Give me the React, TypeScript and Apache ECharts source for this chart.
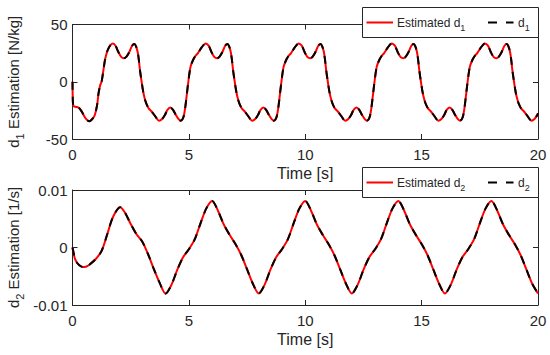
import React, { useEffect, useRef } from 'react';
import * as echarts from 'echarts';

// ---- Data ----
// d1 estimation [N/kg] vs time [s]
const d1Time = [
  0, 0.02, 0.06, 0.15, 0.25, 0.35, 0.45, 0.58, 0.72, 0.85, 0.96, 1.06, 1.12, 1.19, 1.25, 1.32, 1.39, 1.46, 1.53, 1.63, 1.74, 1.86, 1.97,
  2.10, 2.21, 2.32, 2.44, 2.56, 2.66, 2.73, 2.80, 2.85, 2.90, 2.97, 3.04, 3.12, 3.19, 3.28, 3.40, 3.55, 3.72, 3.85, 3.97,
  4.08, 4.20, 4.32, 4.44, 4.55, 4.64, 4.72, 4.78, 4.84, 4.90, 4.97, 5.07, 5.18, 5.28, 5.39, 5.55, 5.72, 5.85, 5.97,
  6.10, 6.21, 6.32, 6.44, 6.56, 6.66, 6.73, 6.80, 6.85, 6.90, 6.97, 7.04, 7.12, 7.19, 7.28, 7.40, 7.55, 7.72, 7.85, 7.97,
  8.08, 8.20, 8.32, 8.44, 8.55, 8.64, 8.72, 8.78, 8.84, 8.90, 8.97, 9.07, 9.18, 9.28, 9.39, 9.55, 9.72, 9.85, 9.97,
  10.10, 10.21, 10.32, 10.44, 10.56, 10.66, 10.73, 10.80, 10.85, 10.90, 10.97, 11.04, 11.12, 11.19, 11.28, 11.40, 11.55, 11.72, 11.85, 11.97,
  12.08, 12.20, 12.32, 12.44, 12.55, 12.64, 12.72, 12.78, 12.84, 12.90, 12.97, 13.07, 13.18, 13.28, 13.39, 13.55, 13.72, 13.85, 13.97,
  14.10, 14.21, 14.32, 14.44, 14.56, 14.66, 14.73, 14.80, 14.85, 14.90, 14.97, 15.04, 15.12, 15.19, 15.28, 15.40, 15.55, 15.72, 15.85, 15.97,
  16.08, 16.20, 16.32, 16.44, 16.55, 16.64, 16.72, 16.78, 16.84, 16.90, 16.97, 17.07, 17.18, 17.28, 17.39, 17.55, 17.72, 17.85, 17.97,
  18.10, 18.21, 18.32, 18.44, 18.56, 18.66, 18.73, 18.80, 18.85, 18.90, 18.97, 19.04, 19.12, 19.19, 19.28, 19.40, 19.55, 19.72, 19.85, 19.97,
  20.0,
];
const d1Estimated = [
  0, -19, -21.5, -22, -22.5, -24.5, -28, -32.5, -34.5, -32.5, -29, -20, -10, -3, 0, 9, 18.5, 24.5, 28.5, 32, 33.5, 31, 26,
  21.5, 20.5, 22, 26, 31.5, 33, 31, 26, 19, 10, 0, -9, -16, -20, -23.5, -26, -30, -34, -32.5, -29,
  -24.5, -22.5, -24.5, -29, -32.5, -34, -33, -30, -23, -13, -1, 13, 19, 22.5, 25, 30, 33.5, 31.5, 26,
  21.5, 20.5, 22, 26, 31.5, 33, 31, 26, 19, 10, 0, -9, -16, -20, -23.5, -26, -30, -34, -32.5, -29,
  -24.5, -22.5, -24.5, -29, -32.5, -34, -33, -30, -23, -13, -1, 13, 19, 22.5, 25, 30, 33.5, 31.5, 26,
  21.5, 20.5, 22, 26, 31.5, 33, 31, 26, 19, 10, 0, -9, -16, -20, -23.5, -26, -30, -34, -32.5, -29,
  -24.5, -22.5, -24.5, -29, -32.5, -34, -33, -30, -23, -13, -1, 13, 19, 22.5, 25, 30, 33.5, 31.5, 26,
  21.5, 20.5, 22, 26, 31.5, 33, 31, 26, 19, 10, 0, -9, -16, -20, -23.5, -26, -30, -34, -32.5, -29,
  -24.5, -22.5, -24.5, -29, -32.5, -34, -33, -30, -23, -13, -1, 13, 19, 22.5, 25, 30, 33.5, 31.5, 26,
  21.5, 20.5, 22, 26, 31.5, 33, 31, 26, 19, 10, 0, -9, -16, -20, -23.5, -26, -30, -34, -32.5, -29,
  -27.5,
];
const d1Actual = d1Estimated; // the dashed reference curve coincides with the estimate

// d2 estimation [1/s] vs time [s]
const d2Time = [
  0, 0.05, 0.1, 0.2, 0.3, 0.45, 0.6, 0.75, 1.0, 1.25, 1.5, 1.75, 2.05, 2.25, 2.5, 2.75, 3.0, 3.25, 3.5, 3.75, 4.0,
  4.25, 4.5, 4.75, 5.0, 5.25, 5.5, 5.75, 6.0, 6.25, 6.5, 6.75, 7.0, 7.25, 7.5, 7.75, 8.0,
  8.25, 8.5, 8.75, 9.0, 9.25, 9.5, 9.75, 10.0, 10.25, 10.5, 10.75, 11.0, 11.25, 11.5, 11.75, 12.0,
  12.25, 12.5, 12.75, 13.0, 13.25, 13.5, 13.75, 14.0, 14.25, 14.5, 14.75, 15.0, 15.25, 15.5, 15.75, 16.0,
  16.25, 16.5, 16.75, 17.0, 17.25, 17.5, 17.75, 18.0, 18.25, 18.5, 18.75, 19.0, 19.25, 19.5, 19.75, 20.0,
];
const d2Estimated = [
  0, -0.001, -0.0019, -0.0027, -0.0031, -0.0034, -0.0033, -0.0029, -0.002, -0.0006, 0.0024, 0.0054, 0.007, 0.0061, 0.0041, 0.0023, 0.001, -0.0012, -0.0038, -0.0062, -0.008,
  -0.0065, -0.0039, -0.0017, -0.0003, 0.0014, 0.0042, 0.0068, 0.0081, 0.0064, 0.004, 0.0022, 0.0006, -0.0013, -0.0038, -0.0063, -0.008,
  -0.0065, -0.0039, -0.0017, -0.0003, 0.0014, 0.0042, 0.0068, 0.0081, 0.0064, 0.004, 0.0022, 0.0006, -0.0013, -0.0038, -0.0063, -0.008,
  -0.0065, -0.0039, -0.0017, -0.0003, 0.0014, 0.0042, 0.0068, 0.0081, 0.0064, 0.004, 0.0022, 0.0006, -0.0013, -0.0038, -0.0063, -0.008,
  -0.0065, -0.0039, -0.0017, -0.0003, 0.0014, 0.0042, 0.0068, 0.0081, 0.0064, 0.004, 0.0022, 0.0006, -0.0013, -0.0038, -0.0063, -0.008,
];
const d2Actual = d2Estimated;

const legendTop = ['Estimated d', '1', 'd', '1'];
const legendBottom = ['Estimated d', '2', 'd', '2'];

const FONT = '"Liberation Sans", Arial, Helvetica, sans-serif';
const INK = '#262626';

export default function App() {
  const ref = useRef<HTMLDivElement>(null);

  useEffect(() => {
    const chart = echarts.init(ref.current!, null, { renderer: 'svg' });
    const pairs = (t: number[], v: number[]) => t.map((x, i) => [x, v[i]]);

    const lineCommon = { show: true, onZero: false, lineStyle: { color: INK, width: 1 } };
    const tickCommon = { show: true, inside: true, length: 5, lineStyle: { color: INK, width: 1 } };

    const xBottom = (gridIndex: number) => ({
      type: 'value', gridIndex, min: 0, max: 20, interval: 5, position: 'bottom',
      axisLine: lineCommon, axisTick: tickCommon, splitLine: { show: false },
      axisLabel: { color: INK, fontSize: 15, fontFamily: FONT, margin: 8 },
      name: 'Time [s]', nameLocation: 'middle', nameGap: 26,
      nameTextStyle: { color: INK, fontSize: 16, fontFamily: FONT },
    });
    const xTop = (gridIndex: number) => ({
      type: 'value', gridIndex, min: 0, max: 20, interval: 5, position: 'top',
      axisLine: lineCommon, axisTick: tickCommon, splitLine: { show: false },
      axisLabel: { show: false },
    });
    const nameRich = {
      n: { fontSize: 15, fontFamily: FONT, color: INK },
      s: { fontSize: 11, fontFamily: FONT, color: INK, padding: [13, 0, 0, 0] },
    };
    const yLeft = (gridIndex: number, min: number, max: number, interval: number, name: string) => ({
      type: 'value', gridIndex, min, max, interval, position: 'left',
      axisLine: lineCommon, axisTick: tickCommon, splitLine: { show: false },
      axisLabel: { color: INK, fontSize: 15, fontFamily: FONT, margin: 5 },
      name, nameLocation: 'middle', nameGap: 47, nameMoveOverlap: false,
      nameTextStyle: { color: INK, fontSize: 15, fontFamily: FONT, rich: nameRich },
    });
    const yRight = (gridIndex: number, min: number, max: number, interval: number) => ({
      type: 'value', gridIndex, min, max, interval, position: 'right',
      axisLine: lineCommon, axisTick: tickCommon, splitLine: { show: false },
      axisLabel: { show: false },
    });

    const red = (name: string, xi: number, yi: number, data: number[][]) => ({
      type: 'line', name, xAxisIndex: xi, yAxisIndex: yi, data, symbol: 'none', showSymbol: false,
      smooth: 0.3, lineStyle: { color: '#ff0000', width: 2 }, itemStyle: { color: '#ff0000' }, z: 2,
    });
    const black = (name: string, xi: number, yi: number, data: number[][]) => ({
      type: 'line', name, xAxisIndex: xi, yAxisIndex: yi, data, symbol: 'none', showSymbol: false,
      smooth: 0.3, lineStyle: { color: '#000000', width: 2, type: [8, 7] }, itemStyle: { color: '#000000' }, z: 3,
    });

    // Legend boxes drawn as graphics (MATLAB style: line samples without markers)
    const legendRich = {
      n: { fontSize: 12, fontFamily: FONT, fill: INK, color: INK, lineHeight: 14 },
      s: { fontSize: 9, fontFamily: FONT, fill: INK, color: INK, lineHeight: 14, padding: [11, 0, 0, 0] },
    };
    const Z = 100;
    const legendBox = (top: number, labels: string[]) => {
      const cy = top + 15;
      return [
        { type: 'rect', z: Z, zlevel: 0, silent: true, shape: { x: 362.5, y: top, width: 176, height: 30 },
          style: { fill: '#ffffff', stroke: INK, lineWidth: 1 } },
        { type: 'line', z: Z + 1, silent: true, shape: { x1: 366.5, y1: cy, x2: 393, y2: cy },
          style: { stroke: '#ff0000', lineWidth: 2 } },
        { type: 'text', z: Z + 1, silent: true, x: 397, y: cy,
          style: { text: `{n|${labels[0]}}{s|${labels[1]}}`, rich: legendRich, fill: INK,
            fontSize: 12, fontFamily: FONT, align: 'left', verticalAlign: 'middle' } },
        { type: 'line', z: Z + 1, silent: true, shape: { x1: 488, y1: cy, x2: 513.5, y2: cy },
          style: { stroke: '#000000', lineWidth: 2, lineDash: [9, 9] } },
        { type: 'text', z: Z + 1, silent: true, x: 518, y: cy,
          style: { text: `{n|${labels[2]}}{s|${labels[3]}}`, rich: legendRich, fill: INK,
            fontSize: 12, fontFamily: FONT, align: 'left', verticalAlign: 'middle' } },
      ];
    };

    chart.setOption({
      animation: false,
      backgroundColor: '#ffffff',
      grid: [
        { left: 72.5, right: 12, top: 24.5, height: 114.5, outerBoundsMode: 'none', containLabel: false },
        { left: 72.5, right: 12, top: 190, height: 115, outerBoundsMode: 'none', containLabel: false },
      ],
      xAxis: [xBottom(0), xTop(0), xBottom(1), xTop(1)],
      yAxis: [
        yLeft(0, -50, 50, 50, '{n|d}{s|1}{n| Estimation [N/kg]}'),
        yRight(0, -50, 50, 50),
        yLeft(1, -0.01, 0.01, 0.01, '{n|d}{s|2}{n| Estimation [1/s]}'),
        yRight(1, -0.01, 0.01, 0.01),
      ],
      series: [
        red('Estimated d1', 0, 0, pairs(d1Time, d1Estimated)),
        black('d1', 0, 0, pairs(d1Time, d1Actual)),
        red('Estimated d2', 2, 2, pairs(d2Time, d2Estimated)),
        black('d2', 2, 2, pairs(d2Time, d2Actual)),
      ],
      graphic: { elements: [...legendBox(7.5, legendTop), ...legendBox(167.5, legendBottom)] },
    });

    return () => chart.dispose();
  }, []);

  return <div ref={ref} style={{ position: 'absolute', left: 0, top: 0, width: 550, height: 355 }} />;
}
